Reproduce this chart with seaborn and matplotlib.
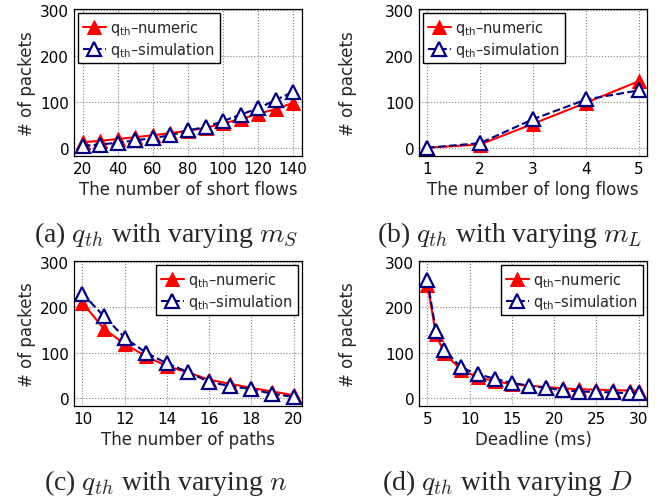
import matplotlib
matplotlib.use("Agg")
import matplotlib.pyplot as plt
import pandas as pd
import seaborn as sns

# DATA
short_flows = [20, 30, 40, 50, 60, 70, 80, 90, 100, 110, 120, 130, 140]
short_numeric = [12, 15, 19, 23, 27, 32, 37, 43, 53, 62, 74, 84, 98]
short_sim = [4, 7, 11, 16, 21, 27, 38, 45, 58, 72, 86, 104, 122]

long_flows = [1, 2, 3, 4, 5]
long_numeric = [0, 7, 52, 98, 145]
long_sim = [0, 10, 62, 105, 125]

paths = [10, 11, 12, 13, 14, 15, 16, 17, 18, 19, 20]
paths_numeric = [210, 153, 119, 92, 70, 56, 40, 31, 22, 14, 6]
paths_sim = [230, 181, 133, 100, 76, 57, 35, 26, 19, 9, 2]

deadline = [5, 6, 7, 9, 11, 13, 15, 17, 19, 21, 23, 25, 27, 29, 30]
deadline_numeric = [250, 140, 98, 62, 45, 37, 30, 27, 24, 21, 19, 18, 17, 16, 16]
deadline_sim = [260, 148, 105, 67, 52, 42, 33, 27, 22, 17, 14, 13, 12, 10, 10]

sns.set_style("white")
plt.rcParams["font.family"] = ["DejaVu Sans"]

W, H = 668, 502
fig = plt.figure(figsize=(W / 100, H / 100), dpi=100)


def add_panel(left, top, right, bottom):
    return fig.add_axes([left / W, 1 - bottom / H, (right - left) / W, (bottom - top) / H])


def draw_panel(ax, x, numeric, sim, xlabel, xlim, xticks, legend_loc, ypad):
    df = pd.DataFrame({"x": x, "numeric": numeric, "sim": sim})
    sns.lineplot(data=df, x="x", y="numeric", ax=ax, color="red", lw=1.5,
                 marker="^", markersize=10, markeredgecolor="red",
                 label=r"q$_{\rm th}$–numeric")
    sns.lineplot(data=df, x="x", y="sim", ax=ax, color="navy", lw=1.5,
                 linestyle="--", marker="^", markersize=10,
                 markerfacecolor="white", markeredgecolor="navy",
                 markeredgewidth=1.6, label=r"q$_{\rm th}$–simulation")
    ax.set_xlim(*xlim)
    ax.set_ylim(-18, 302)
    ax.set_xticks(xticks)
    ax.set_yticks([0, 100, 200, 300])
    ax.grid(True, linestyle=":", color="gray", lw=0.8)
    ax.tick_params(direction="in", length=3, labelsize=11, colors="black")
    for s in ax.spines.values():
        s.set_color("black")
        s.set_linewidth(0.9)
    ax.set_xlabel(xlabel, fontsize=12, labelpad=3)
    ax.set_ylabel("# of packets", fontsize=12, labelpad=ypad)
    ax.legend(loc=legend_loc, fontsize=10.5, numpoints=1, fancybox=False,
              edgecolor="black", framealpha=1, borderpad=0.3,
              handlelength=1.6, handletextpad=0.3, labelspacing=0.2,
              borderaxespad=0.3)


ax_a = add_panel(74, 10, 302, 157)
draw_panel(ax_a, short_flows, short_numeric, short_sim, "The number of short flows",
           (15, 145), [20, 40, 60, 80, 100, 120, 140], "upper left", 3)

ax_b = add_panel(419, 10, 647, 157)
draw_panel(ax_b, long_flows, long_numeric, long_sim, "The number of long flows",
           (0.85, 5.15), [1, 2, 3, 4, 5], "upper left", 20)

ax_c = add_panel(74, 262, 302, 407)
draw_panel(ax_c, paths, paths_numeric, paths_sim, "The number of paths",
           (9.6, 20.4), [10, 12, 14, 16, 18, 20], "upper right", 3)

ax_d = add_panel(419, 262, 647, 407)
draw_panel(ax_d, deadline, deadline_numeric, deadline_sim, "Deadline (ms)",
           (4, 31), [5, 10, 15, 20, 25, 30], "upper right", 20)

# captions
caps = [(166, 235, r"(a) $q_{th}$ with varying $m_S$"),
        (510, 235, r"(b) $q_{th}$ with varying $m_L$"),
        (166, 483, r"(c) $q_{th}$ with varying $n$"),
        (507, 483, r"(d) $q_{th}$ with varying $D$")]
for cx, cy, txt in caps:
    fig.text(cx / W, 1 - cy / H, txt, ha="center", va="center", fontsize=20,
             family="Liberation Serif", math_fontfamily="cm")

fig.savefig("out.png", dpi=100)
